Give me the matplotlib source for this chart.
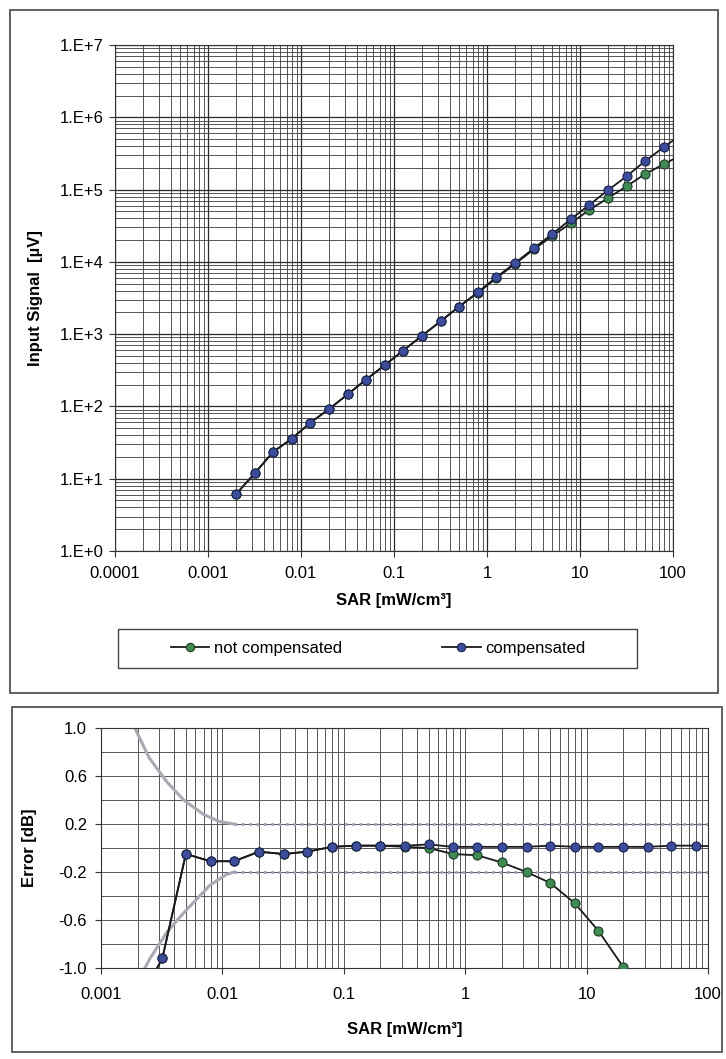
import numpy as np
import matplotlib.pyplot as plt
from matplotlib.patches import Rectangle
from matplotlib.ticker import FuncFormatter, LogLocator, NullFormatter

plt.rcParams['font.family'] = ['Liberation Sans', 'DejaVu Sans']

# SAR steps (mW/cm3)
sar = [0.002, 0.0032, 0.005, 0.008, 0.0125, 0.02, 0.032, 0.05, 0.08, 0.125, 0.2, 0.32,
       0.5, 0.8, 1.25, 2, 3.2, 5, 8, 12.5, 20, 32, 50, 80]

# input signal (uV)
sig_comp = [6.1, 12, 23.4, 36, 59, 92, 148, 235, 375, 590, 950, 1520,
            2400, 3800, 6100, 9600, 15500, 24200, 39000, 61000, 98000, 154000, 248000, 387000]
sig_notcomp = [6.1, 12, 23.4, 36, 59, 92, 148, 235, 375, 590, 950, 1520,
               2400, 3750, 5900, 9400, 14900, 22700, 34400, 52000, 76300, 112000, 164000, 225000]

# error (dB)
err_comp = [-1.3, -0.92, -0.05, -0.11, -0.11, -0.03, -0.05, -0.03, 0.01, 0.02, 0.02, 0.02,
            0.03, 0.01, 0.01, 0.01, 0.01, 0.02, 0.01, 0.01, 0.01, 0.01, 0.02, 0.02]
err_notcomp = [-1.3, -0.92, -0.05, -0.11, -0.11, -0.03, -0.05, -0.03, 0.01, 0.02, 0.02, 0.01,
               0.0, -0.05, -0.06, -0.12, -0.20, -0.29, -0.46, -0.69, -0.99, np.nan, np.nan, np.nan]

# uncertainty band
band_x = [0.0019, 0.0025, 0.0035, 0.0048, 0.007, 0.0095, 0.0125, 100]
band_upper = [1.0, 0.75, 0.55, 0.40, 0.28, 0.22, 0.20, 0.20]
band_lx = [0.0023, 0.0025, 0.0035, 0.0048, 0.0079, 0.0108, 0.0125, 100]
band_lower = [-1.0, -0.93, -0.70, -0.54, -0.31, -0.22, -0.20, -0.20]

# tick labels
top_xticks = [0.0001, 0.001, 0.01, 0.1, 1, 10, 100]
top_xlabels = ['0.0001', '0.001', '0.01', '0.1', '1', '10', '100']
top_yticks = [1, 10, 100, 1e3, 1e4, 1e5, 1e6, 1e7]
top_ylabels = ['1.E+0', '1.E+1', '1.E+2', '1.E+3', '1.E+4', '1.E+5', '1.E+6', '1.E+7']
bot_xticks = [0.001, 0.01, 0.1, 1, 10, 100]
bot_xlabels = ['0.001', '0.01', '0.1', '1', '10', '100']
bot_yticks = [-1.0, -0.6, -0.2, 0.2, 0.6, 1.0]
bot_ylabels = ['-1.0', '-0.6', '-0.2', '0.2', '0.6', '1.0']
bot_ygrid = [-0.8, -0.4, 0.0, 0.4, 0.8]

blue = dict(marker='o', markersize=6.5, markerfacecolor='#3b4d9c', markeredgecolor='#1a2250',
            markeredgewidth=0.8, color='#1a1a1a', lw=1.3)
green = dict(marker='o', markersize=6.5, markerfacecolor='#3e8c52', markeredgecolor='#1b3b22',
             markeredgewidth=0.8, color='#1a1a1a', lw=1.3)


def extend(x, y, logy):
    # continue the last segment out to the right edge (x = 100)
    x = np.asarray(x, float)
    y = np.asarray(y, float)
    m = ~np.isnan(y)
    x, y = x[m], y[m]
    lx = np.log10(x[-2:])
    ly = np.log10(y[-2:]) if logy else y[-2:]
    s = (ly[1] - ly[0]) / (lx[1] - lx[0])
    yend = ly[1] + s * (2 - lx[1])
    if logy:
        yend = 10 ** yend
    return [x[-1], 100], [y[-1], yend]


fig = plt.figure(figsize=(7.26, 10.59), dpi=100)

# frames around both panels
fig.patches.append(Rectangle((0.0138, 0.3456), 0.975, 0.645, transform=fig.transFigure,
                             fill=False, edgecolor='#555555', lw=1.3))
fig.patches.append(Rectangle((0.0165, 0.0066), 0.978, 0.3258, transform=fig.transFigure,
                             fill=False, edgecolor='#555555', lw=1.3))

# ---- top panel ----
ax1 = fig.add_axes([0.1584, 0.4797, 0.7686, 0.4778])
ax1.set_xscale('log')
ax1.set_yscale('log')
ax1.set_xticks(top_xticks, top_xlabels)
ax1.set_yticks(top_yticks, top_ylabels)
ax1.xaxis.set_minor_locator(LogLocator(base=10, subs=np.arange(2, 10), numticks=20))
ax1.yaxis.set_minor_locator(LogLocator(base=10, subs=np.arange(2, 10), numticks=20))
ax1.xaxis.set_minor_formatter(NullFormatter())
ax1.yaxis.set_minor_formatter(NullFormatter())
ax1.set_xlim(1e-4, 100)
ax1.set_ylim(1, 1e7)
ax1.grid(True, which='major', color='#2a2a2a', lw=0.9)
ax1.grid(True, which='minor', color='#3a3a3a', lw=0.6)
ax1.tick_params(which='major', direction='out', length=4, labelsize=12, color='#333333')
ax1.tick_params(axis='x', pad=7)
ax1.tick_params(axis='y', pad=4)
ax1.tick_params(which='minor', length=0)
for s in ax1.spines.values():
    s.set_color('#333333')

ax1.plot(sar, sig_notcomp, zorder=3, **green)
ax1.plot(sar, sig_comp, zorder=4, **blue)
ex, ey = extend(sar, sig_notcomp, True)
ax1.plot(ex, ey, color='#1a1a1a', lw=1.3, zorder=2)
ex, ey = extend(sar, sig_comp, True)
ax1.plot(ex, ey, color='#1a1a1a', lw=1.3, zorder=2)

ax1.set_xlabel('SAR [mW/cm³]', fontsize=12, fontweight='bold', va='center')
ax1.xaxis.set_label_coords(0.5, -0.097)
ax1.set_ylabel('Input Signal  [µV]', fontsize=12, fontweight='bold', va='center')
ax1.yaxis.set_label_coords(-0.143, 0.5)

# legend box
fig.patches.append(Rectangle((118 / 726, 1 - 668 / 1059), 519 / 726, 39 / 1059,
                             transform=fig.transFigure, fill=False, edgecolor='#444444', lw=1.0))
h1, = ax1.plot([], [], **dict(green, markersize=6))
h2, = ax1.plot([], [], **dict(blue, markersize=6))
fig.legend([h1, h2], ['not compensated', 'compensated'], loc='center',
           bbox_to_anchor=(0.521, 0.3876), ncol=2, frameon=False, fontsize=12,
           handlelength=2.3, handletextpad=0.3, columnspacing=6.0)

# ---- bottom panel ----
ax2 = fig.add_axes([0.1391, 0.0859, 0.8361, 0.2266])
ax2.set_xscale('log')
ax2.set_xticks(bot_xticks, bot_xlabels)
ax2.xaxis.set_minor_locator(LogLocator(base=10, subs=np.arange(2, 10), numticks=20))
ax2.xaxis.set_minor_formatter(NullFormatter())
ax2.set_yticks(bot_yticks, bot_ylabels)
ax2.set_yticks(bot_ygrid, minor=True)
ax2.set_xlim(1e-3, 100)
ax2.set_ylim(-1.0, 1.0)
ax2.grid(True, which='both', color='#555555', lw=0.7)
ax2.tick_params(which='major', direction='out', length=4, labelsize=12, color='#333333')
ax2.tick_params(axis='x', pad=10)
ax2.tick_params(axis='y', pad=6)
ax2.tick_params(which='minor', length=0)
for s in ax2.spines.values():
    s.set_color('#333333')

ax2.plot(band_x[:7], band_upper[:7], color='#a9a9b3', lw=2.2, zorder=2)
ax2.plot(band_x[6:], band_upper[6:], color='#9c9cc0', lw=2.0, ls=':', zorder=2)
ax2.plot(band_lx[:7], band_lower[:7], color='#a9a9b3', lw=2.2, zorder=2)
ax2.plot(band_lx[6:], band_lower[6:], color='#9c9cc0', lw=2.0, ls=':', zorder=2)

ax2.plot(sar, err_notcomp, zorder=3, **green)
ax2.plot(sar, err_comp, zorder=4, **blue)
ex, ey = extend(sar, err_comp, False)
ax2.plot(ex, ey, color='#1a1a1a', lw=1.3, zorder=2, clip_on=False)

ax2.set_xlabel('SAR [mW/cm³]', fontsize=12, fontweight='bold', va='center')
ax2.xaxis.set_label_coords(0.5, -0.258)
ax2.set_ylabel('Error [dB]', fontsize=12, fontweight='bold', va='center')
ax2.yaxis.set_label_coords(-0.117, 0.5)

fig.savefig('out.png', dpi=100)
